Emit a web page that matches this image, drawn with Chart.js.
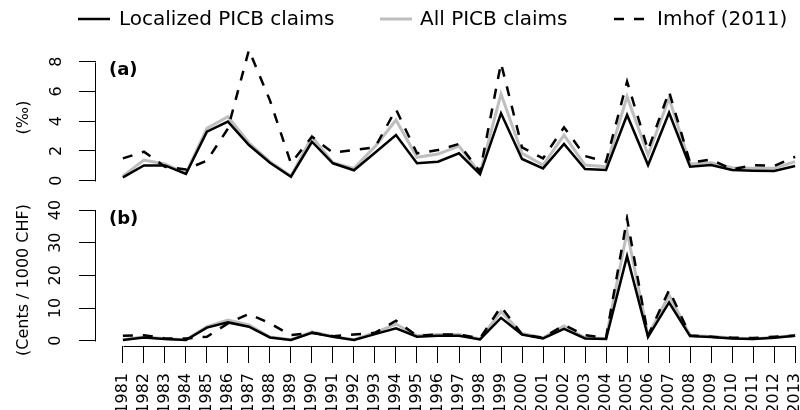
<!DOCTYPE html>
<html><head><meta charset="utf-8">
<script src="https://cdn.jsdelivr.net/npm/chart.js@4.4.0/dist/chart.umd.min.js"></script>
<style>
html,body{margin:0;padding:0;width:800px;height:410px;overflow:hidden;background:#fff;font-family:"DejaVu Sans",sans-serif;}
#wrap{position:relative;width:800px;height:410px;overflow:hidden;}
canvas{position:absolute;left:0;}
#cTop{top:0;}
#cBot{top:195px;}
.lg{position:absolute;font-size:20px;line-height:24px;top:6px;color:#000;white-space:nowrap;}
.sw{position:absolute;top:13px;}
.pl{position:absolute;font-weight:bold;font-size:18px;line-height:22px;left:109px;color:#000;}
</style></head>
<body><div id="wrap">
<canvas id="cTop" width="830" height="195"></canvas>
<canvas id="cBot" width="830" height="221"></canvas>
<div id="legend"></div>
<div class="pl" style="top:58px">(a)</div>
<div class="pl" style="top:207px">(b)</div>
</div>
<script>
// ---------- data ----------
const years = [1981,1982,1983,1984,1985,1986,1987,1988,1989,1990,1991,1992,1993,1994,1995,1996,1997,1998,1999,2000,2001,2002,2003,2004,2005,2006,2007,2008,2009,2010,2011,2012,2013];
const seriesNames = ['Localized PICB claims','All PICB claims','Imhof (2011)'];
// panel (a): per mille
const localA = [0.22,1.03,1.03,0.45,3.30,3.97,2.40,1.21,0.27,2.62,1.17,0.70,1.88,3.07,1.17,1.28,1.84,0.43,4.53,1.46,0.83,2.47,0.78,0.72,4.42,1.05,4.57,0.94,1.05,0.72,0.67,0.65,0.99];
const allA   = [0.31,1.39,1.12,0.49,3.52,4.30,2.55,1.28,0.31,2.96,1.21,0.83,2.29,4.08,1.57,1.79,2.33,0.49,5.83,1.84,1.05,3.07,1.05,0.94,5.65,1.73,5.54,1.12,1.21,0.87,0.83,0.83,1.28];
const imhofA = [1.50,1.95,0.94,0.75,1.35,3.50,8.79,5.40,1.17,2.96,1.88,2.06,2.24,4.80,1.84,2.06,2.47,0.60,7.90,2.24,1.50,3.59,1.66,1.28,6.66,2.06,5.99,1.21,1.43,0.76,1.05,0.99,1.61];
// panel (b): cents / 1000 CHF
const localB = [0.2,1.0,0.5,0.2,4.0,5.6,4.3,1.0,0.2,2.4,1.2,0.2,2.0,3.8,1.2,1.5,1.5,0.4,7.0,1.9,0.7,3.6,0.7,0.5,25.9,1.2,11.7,1.4,1.1,0.7,0.5,0.9,1.5];
const allB   = [0.3,1.2,0.6,0.3,4.3,6.3,4.8,1.1,0.3,2.7,1.3,0.3,2.5,5.1,1.6,1.9,1.9,0.5,8.9,2.2,0.9,4.5,0.9,0.7,33.4,1.6,14.0,1.6,1.3,0.8,0.6,1.0,1.7];
const imhofB = [1.5,1.7,0.7,0.7,1.2,5.3,8.2,5.3,1.7,2.4,1.4,1.9,2.4,6.1,1.5,1.9,1.9,0.7,10.4,1.9,0.9,4.8,1.7,0.9,37.4,1.5,15.5,1.6,1.2,0.9,0.8,1.2,1.5];
const ticksA = [0,2,4,6,8];
const ticksB = [0,10,20,30,40];

// ---------- styles ----------
Chart.defaults.font.family = '"DejaVu Sans", sans-serif';
Chart.defaults.color = '#000';
const styles = [
  {color:'#000000', width:2.5, dash:[],     order:1},
  {color:'#BEBEBE', width:3,   dash:[],     order:2},
  {color:'#000000', width:2.5, dash:[10,10], order:0}
];

// legend (HTML)
const lgPos = [{sw:78, tx:119},{sw:380, tx:420},{sw:614, tx:657}];
const legend = document.getElementById('legend');
seriesNames.forEach((n,i)=>{
  const s = styles[i];
  const svg = document.createElementNS('http://www.w3.org/2000/svg','svg');
  svg.setAttribute('width','33'); svg.setAttribute('height','12');
  svg.setAttribute('class','sw'); svg.style.left = lgPos[i].sw + 'px';
  const ln = document.createElementNS('http://www.w3.org/2000/svg','line');
  ln.setAttribute('x1','0'); ln.setAttribute('x2','32'); ln.setAttribute('y1','6'); ln.setAttribute('y2','6');
  ln.setAttribute('stroke', s.color); ln.setAttribute('stroke-width', s.width);
  if (s.dash.length) ln.setAttribute('stroke-dasharray', s.dash.join(','));
  svg.appendChild(ln);
  legend.appendChild(svg);
  const t = document.createElement('div');
  t.className = 'lg'; t.style.left = lgPos[i].tx + 'px'; t.textContent = n;
  legend.appendChild(t);
});

function mk(i, arr){
  const s = styles[i];
  return {label: seriesNames[i], data: years.map((yr,k)=>({x:yr, y:arr[k]})),
    borderColor: s.color, backgroundColor: s.color, borderWidth: s.width, borderDash: s.dash,
    pointRadius: 0, fill: false, tension: 0, order: s.order, borderCapStyle:'butt', borderJoinStyle:'miter'};
}

// R-style axis lines spanning only the tick range
const rAxes = {
  id: 'rAxes',
  afterDraw(chart, args, opts){
    const ctx = chart.ctx, ca = chart.chartArea, ys = chart.scales.y, xs = chart.scales.x;
    ctx.save(); ctx.strokeStyle = '#000'; ctx.lineWidth = 1; ctx.setLineDash([]);
    const t = opts.yTicks;
    const xL = Math.round(ca.left) - 0.5;
    ctx.beginPath();
    ctx.moveTo(xL, Math.round(ys.getPixelForValue(t[0])) + 0.5);
    ctx.lineTo(xL, Math.round(ys.getPixelForValue(t[t.length-1])) + 0.5);
    ctx.stroke();
    if (opts.xAxis) {
      const yB = Math.round(ca.bottom) + 0.5;
      ctx.beginPath();
      ctx.moveTo(Math.round(xs.getPixelForValue(years[0])) + 0.5, yB);
      ctx.lineTo(Math.round(xs.getPixelForValue(years[years.length-1])) + 0.5, yB);
      ctx.stroke();
    }
    ctx.restore();
  }
};

const xMin = 1979.72, xMax = 2014.28;

function yScale(ticks, min, max, title, pad){
  return {
    type:'linear', position:'left', min, max, bounds:'data',
    afterBuildTicks: s => { s.ticks = ticks.map(v=>({value:v})); },
    afterFit: s => { s.width = 96; s.paddingTop = 0; s.paddingBottom = 0; },
    ticks: {minRotation:90, maxRotation:90, crossAlign:'center', padding: pad, autoSkip:false,
      font:{size:16}, color:'#000', callback: v => String(v)},
    grid: {display:true, drawOnChartArea:false, drawTicks:true, tickLength:17, color:'#000', lineWidth:1},
    border: {display:false},
    title: {display:true, text:title, color:'#000', font:{size:16}, padding:{top:14.4, bottom:0}}
  };
}

new Chart(document.getElementById('cTop'), {
  type:'line',
  data:{datasets:[mk(0,localA), mk(1,allA), mk(2,imhofA)]},
  options:{
    responsive:false, animation:false, devicePixelRatio:1, events:[],
    layout:{padding:{top:45, bottom:5, left:0, right:8}},
    plugins:{legend:{display:false}, tooltip:{enabled:false}, rAxes:{yTicks:ticksA, xAxis:false}},
    scales:{
      x:{type:'linear', min:xMin, max:xMax, display:false, bounds:'data'},
      y: yScale(ticksA, -0.625, 9.123, '(‰)', 16.9)
    }
  },
  plugins:[rAxes]
});

new Chart(document.getElementById('cBot'), {
  type:'line',
  data:{datasets:[mk(0,localB), mk(1,allB), mk(2,imhofB)]},
  options:{
    responsive:false, animation:false, devicePixelRatio:1, events:[],
    layout:{padding:{top:19, bottom:0, left:0, right:8}},
    plugins:{legend:{display:false}, tooltip:{enabled:false}, rAxes:{yTicks:ticksB, xAxis:true}},
    scales:{
      x:{type:'linear', position:'bottom', min:xMin, max:xMax, bounds:'data',
        afterBuildTicks: s => { s.ticks = years.map(v=>({value:v})); },
        afterFit: s => { s.height = 70; s.paddingLeft = 0; s.paddingRight = 0; },
        ticks:{minRotation:90, maxRotation:90, padding:10, autoSkip:false, font:{size:16}, color:'#000',
          callback: v => String(v)},
        grid:{display:true, drawOnChartArea:false, drawTicks:true, tickLength:17, color:'#000', lineWidth:1},
        border:{display:false}
      },
      y: yScale(ticksB, -1.622, 38.776, '(Cents / 1000 CHF)', 12.8)
    }
  },
  plugins:[rAxes]
});
</script>
</body></html>
